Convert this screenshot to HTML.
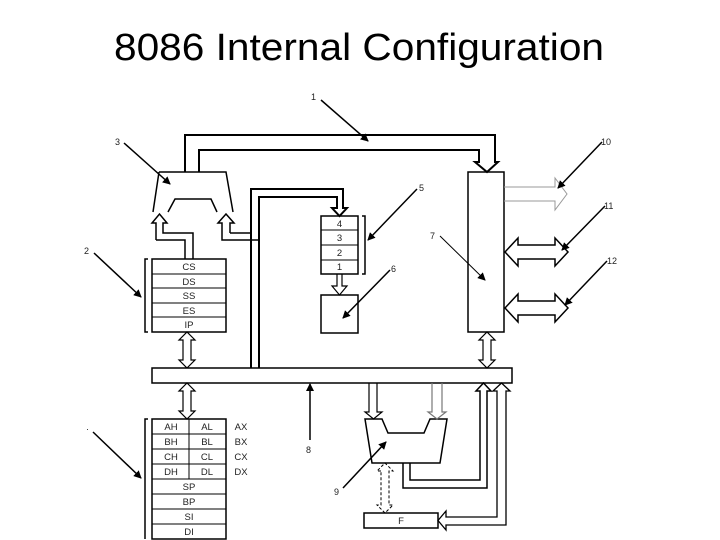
<!DOCTYPE html>
<html><head><meta charset="utf-8"><style>
html,body{margin:0;padding:0;background:#fff;}
svg{display:block;}
text{font-family:"Liberation Sans",sans-serif;}
</style></head><body>
<svg width="720" height="540" viewBox="0 0 720 540" xmlns="http://www.w3.org/2000/svg">
<defs>
<marker id="ah" markerWidth="8" markerHeight="8" refX="7" refY="4" orient="auto" markerUnits="userSpaceOnUse">
<path d="M0,0 L8,4 L0,8 z" fill="#000"/></marker>
</defs>
<text x="359" y="60" font-size="38" text-anchor="middle" textLength="490" lengthAdjust="spacingAndGlyphs">8086 Internal Configuration</text>
<g fill="none" stroke="#000" stroke-width="2">
<!-- top bus to BIU -->
<path d="M185,172 V135 H495 V162 H498 L487,172 L475,162 H479 V150 H199 V172"/>
<!-- mux -->
<path d="M159,172 H226 L233,212 M159,172 L153,212 M168,212 L175,199 H211 L217,212" stroke-width="1.5"/>
<!-- left mux arrow -->
<path d="M156,240 V223 H152 L159.5,214 L167,223 H163 V233 H193 V259 M156,240 H185 V259" stroke-width="1.5"/>
<!-- right mux arrow -->
<path d="M230,233 V223 H234 L226,214 L218,223 H222 V240 H259 M230,233 H251" stroke-width="1.5"/>
<path d="M251,368 V189 H343 V208 H347 L339.5,216 L332,208 H337 V197 H259 V368" stroke-width="2"/>
<!-- queue -->
<rect x="321" y="216" width="37" height="58" stroke-width="1.5"/>
<path d="M321,230 H358 M321,245 H358 M321,260 H358" stroke-width="1"/>
<path d="M362,216 H365 V274 H362" stroke-width="1.5"/>
<path d="M337,274 V286 H332 L339.5,295 L347,286 H342 V274" stroke-width="1.2"/>
<rect x="321" y="295" width="37" height="38" stroke-width="1.5"/>
<!-- segment regs -->
<rect x="152" y="259" width="74" height="73" stroke-width="1.5"/>
<path d="M152,274 H226 M152,288 H226 M152,303 H226 M152,317 H226" stroke-width="1"/>
<path d="M148,259 H145 V332 H148" stroke-width="1.5"/>
<path d="M183,340 H179 L187,332 L195,340 H191 V360 H195 L187,368 L179,360 H183 Z" stroke-width="1.2"/>
<!-- bus -->
<rect x="152" y="368" width="360" height="15" stroke-width="1.5" fill="#fff"/>
<!-- gp regs -->
<rect x="152" y="419" width="74" height="120" stroke-width="1.5"/>
<path d="M152,434 H226 M152,449 H226 M152,464 H226 M152,479 H226 M152,494 H226 M152,509 H226 M152,524 H226 M189,419 V479" stroke-width="1"/>
<path d="M148,419 H145 V539" stroke-width="1.5"/>
<path d="M183,391 H179 L187,383 L195,391 H191 V411 H195 L187,419 L179,411 H183 Z" stroke-width="1.2"/>
<!-- BIU box -->
<rect x="468" y="172" width="36" height="160" stroke-width="1.5"/>
<path d="M483,340 H479 L487,332 L495,340 H491 V360 H495 L487,368 L479,360 H483 Z" stroke-width="1.2"/>
<path d="M504,187 H555 V178 L567,194 L555,210 V201 H504" stroke="#999" stroke-width="1"/>
<path d="M505,252 L518,238 V245 H555 V238 L568,252 L555,266 V259 H518 V266 Z" stroke-width="1.5"/>
<path d="M505,308 L518,294 V301 H555 V294 L568,308 L555,322 V315 H518 V322 Z" stroke-width="1.5"/>
<!-- ALU -->
<path d="M365,419 H382 L388,433 H424 L430,419 H447 L440,463 H372 Z" stroke-width="1.5"/>
<path d="M369,383 V412 H365 L373.5,419 L382,412 H377 V383" stroke-width="1.2"/>
<path d="M432,383 V412 H428 L437,419 L446,412 H442 V383" stroke="#777" stroke-width="1.2"/>
<!-- flags -->
<rect x="364" y="513" width="74" height="15" stroke-width="1.5"/>
<path d="M381,471 H377 L385,463 L393,471 H389 V505 H393 L385,513 L377,505 H381 Z" stroke-width="1" stroke-dasharray="3,2"/>
<!-- ALU outputs -->
<path d="M410,463 V480 H480 V391 H476 L483.5,383 L491,391 H487 V488 H403 V463" stroke-width="1.5"/>
<path d="M506,391 V525 H446 V530 L438,520.5 L446,511 V517 H497 V391 H493 L501.5,383 L510,391 Z" stroke-width="1.3"/>
<!-- callout arrows -->
<g stroke-width="1.5" marker-end="url(#ah)">
<line x1="321" y1="100" x2="368" y2="141"/>
<line x1="124" y1="143" x2="170" y2="184"/>
<line x1="94" y1="253" x2="141" y2="297"/>
<line x1="417" y1="189" x2="368" y2="240"/>
<line x1="390" y1="270" x2="343" y2="318"/>
<line x1="440" y1="236" x2="485" y2="280" stroke-width="1"/>
<line x1="602" y1="142" x2="558" y2="188"/>
<line x1="605" y1="206" x2="562" y2="250"/>
<line x1="607" y1="261" x2="565" y2="305"/>
<line x1="93" y1="432" x2="141" y2="478"/>
<line x1="310" y1="440" x2="310" y2="384"/>
<line x1="343" y1="488" x2="386" y2="442"/>
</g>
</g>
<g font-size="9" fill="#222">
<text x="311" y="100">1</text>
<text x="115" y="145">3</text>
<text x="84" y="254">2</text>
<text x="419" y="191">5</text>
<text x="391" y="272">6</text>
<text x="430" y="239">7</text>
<text x="601" y="145">10</text>
<text x="604" y="209">11</text>
<text x="607" y="264">12</text>
<text x="306" y="453">8</text>
<text x="334" y="495">9</text>
<text x="86" y="432">·</text>
</g>
<g font-size="9.5" fill="#222" text-anchor="middle">
<text x="339.5" y="227">4</text><text x="339.5" y="241">3</text><text x="339.5" y="256">2</text><text x="339.5" y="270">1</text>
<text x="189" y="270">CS</text><text x="189" y="285">DS</text><text x="189" y="299">SS</text><text x="189" y="314">ES</text><text x="189" y="328">IP</text>
<text x="171" y="430">AH</text><text x="207" y="430">AL</text>
<text x="171" y="445">BH</text><text x="207" y="445">BL</text>
<text x="171" y="460">CH</text><text x="207" y="460">CL</text>
<text x="171" y="475">DH</text><text x="207" y="475">DL</text>
<text x="189" y="490">SP</text><text x="189" y="505">BP</text><text x="189" y="520">SI</text><text x="189" y="535">DI</text>
<text x="241" y="430">AX</text><text x="241" y="445">BX</text><text x="241" y="460">CX</text><text x="241" y="475">DX</text>
<text x="401" y="524">F</text>
</g>
</svg>
</body></html>
